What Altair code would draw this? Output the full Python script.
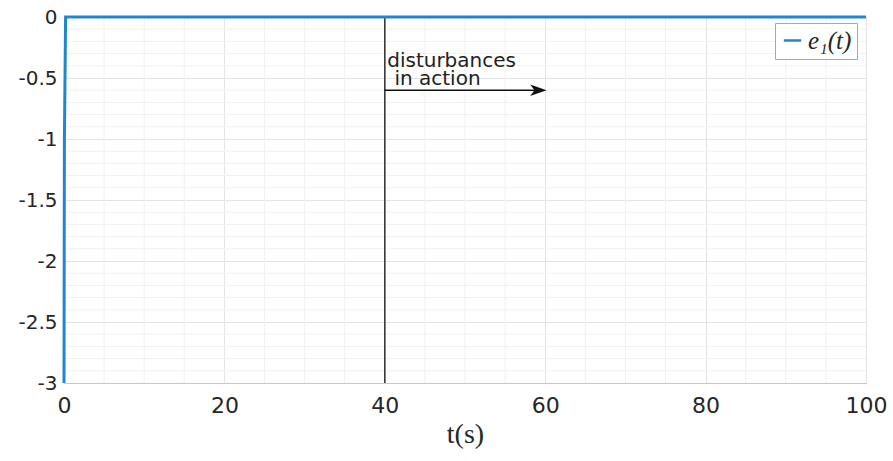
import altair as alt
import pandas as pd

# e1(t) series
t_vals = [0.0, 0.05, 0.2, 100.0]
e1_vals = [-3.0, -1.0, 0.0, 0.0]

x_major = [0, 20, 40, 60, 80, 100]
x_minor = [v for v in range(0, 101, 5) if v % 20 != 0]
y_major = [0, -0.5, -1, -1.5, -2, -2.5, -3]
y_minor = [round(-0.1 * i, 1) for i in range(0, 31) if i % 5 != 0]

dist_t = [40]
arrow_start = [40]
arrow_end = [59.7]
arrow_y = [-0.6]
ann_text = ["disturbances", "in action"]
ann_t = [40.3, 41.2]
ann_y = [-0.36, -0.51]

FONT = "DejaVu Sans"
SERIF = "Liberation Serif"
TXT = "#262626"

line_df = pd.DataFrame({"t": t_vals, "e": e1_vals, "series": ["e₁(t)"] * len(t_vals)})

xs = alt.Scale(domain=[0, 100], nice=False, zero=False)
ys = alt.Scale(domain=[-3, 0], nice=False, zero=False)

minor_x = alt.Chart(pd.DataFrame({"t": x_minor})).mark_rule(color="#f1f1f1", strokeWidth=1).encode(
    x=alt.X("t:Q", scale=xs), y=alt.value(0), y2=alt.value(366)
)
minor_y = alt.Chart(pd.DataFrame({"e": y_minor})).mark_rule(color="#f1f1f1", strokeWidth=1).encode(
    y=alt.Y("e:Q", scale=ys), x=alt.value(0), x2=alt.value(802)
)

lbl = "datum.value == 0 ? '0' : (datum.value < 0 ? '-' : '') + format(abs(datum.value), '~g')"

main_x_axis = alt.Axis(values=x_major, grid=True, gridColor="#e4e4e4", labelFont=FONT,
                       labelFontSize=22, labelColor=TXT, labelPadding=12, tickSize=0,
                       labelFlush=False,
                       domainColor="#c8c8c8", title="t(s)", titleFont=SERIF,
                       titleFontSize=28, titleFontWeight="normal", titleColor=TXT, titlePadding=4,
                       labelExpr=lbl)
main_y_axis = alt.Axis(values=y_major, grid=True, gridColor="#e4e4e4", labelFont=FONT,
                       labelFontSize=20, labelColor=TXT, labelPadding=7, tickSize=0,
                       labelFlush=False,
                       domainColor="#c8c8c8", title=None, labelExpr=lbl)

line = alt.Chart(line_df).mark_line(strokeWidth=3, clip=False).encode(
    x=alt.X("t:Q", scale=xs, axis=main_x_axis),
    y=alt.Y("e:Q", scale=ys, axis=main_y_axis),
    color=alt.Color("series:N", scale=alt.Scale(range=["#1f86cf"]),
                    legend=alt.Legend(title=None, orient="none", legendX=711, legendY=6,
                                      symbolType="stroke", symbolStrokeWidth=2.5, symbolSize=300,
                                      labelFont=SERIF, labelFontStyle="italic",
                                      labelFontSize=25, labelColor=TXT, strokeColor="#a8a8a8",
                                      fillColor="white", padding=5, labelOffset=3)),
)

vline = alt.Chart(pd.DataFrame({"t": dist_t})).mark_rule(color="#333333", strokeWidth=1.5).encode(
    x=alt.X("t:Q", scale=xs), y=alt.value(0), y2=alt.value(366)
)

arr_df = pd.DataFrame({"t0": arrow_start, "t1": arrow_end, "y": arrow_y})
arrow_line = alt.Chart(arr_df).mark_rule(color="#111111", strokeWidth=1.5).encode(
    x=alt.X("t0:Q", scale=xs), x2="t1:Q", y=alt.Y("y:Q", scale=ys)
)
arrow_head = alt.Chart(arr_df).mark_point(
    shape="M-1,-0.45 L0.3,0 L-1,0.45 L-0.65,0 Z", filled=True, color="#111111", opacity=1, size=640
).encode(x=alt.X("t1:Q", scale=xs), y=alt.Y("y:Q", scale=ys))

ann = alt.Chart(pd.DataFrame({"t": ann_t, "y": ann_y, "txt": ann_text})).mark_text(
    align="left", baseline="middle", font=FONT, fontSize=20, color="#222222"
).encode(x=alt.X("t:Q", scale=xs), y=alt.Y("y:Q", scale=ys), text="txt:N")

chart = alt.layer(minor_x, minor_y, vline, arrow_line, arrow_head, ann, line).properties(
    width=802, height=366,
    autosize=alt.AutoSizeParams(type="none"),
    padding={"left": 64, "top": 17, "right": 27, "bottom": 78},
    background="white",
).configure_view(stroke="#c8c8c8", strokeWidth=1)

chart.save("out.html", embed_options={"renderer": "svg", "actions": False})
